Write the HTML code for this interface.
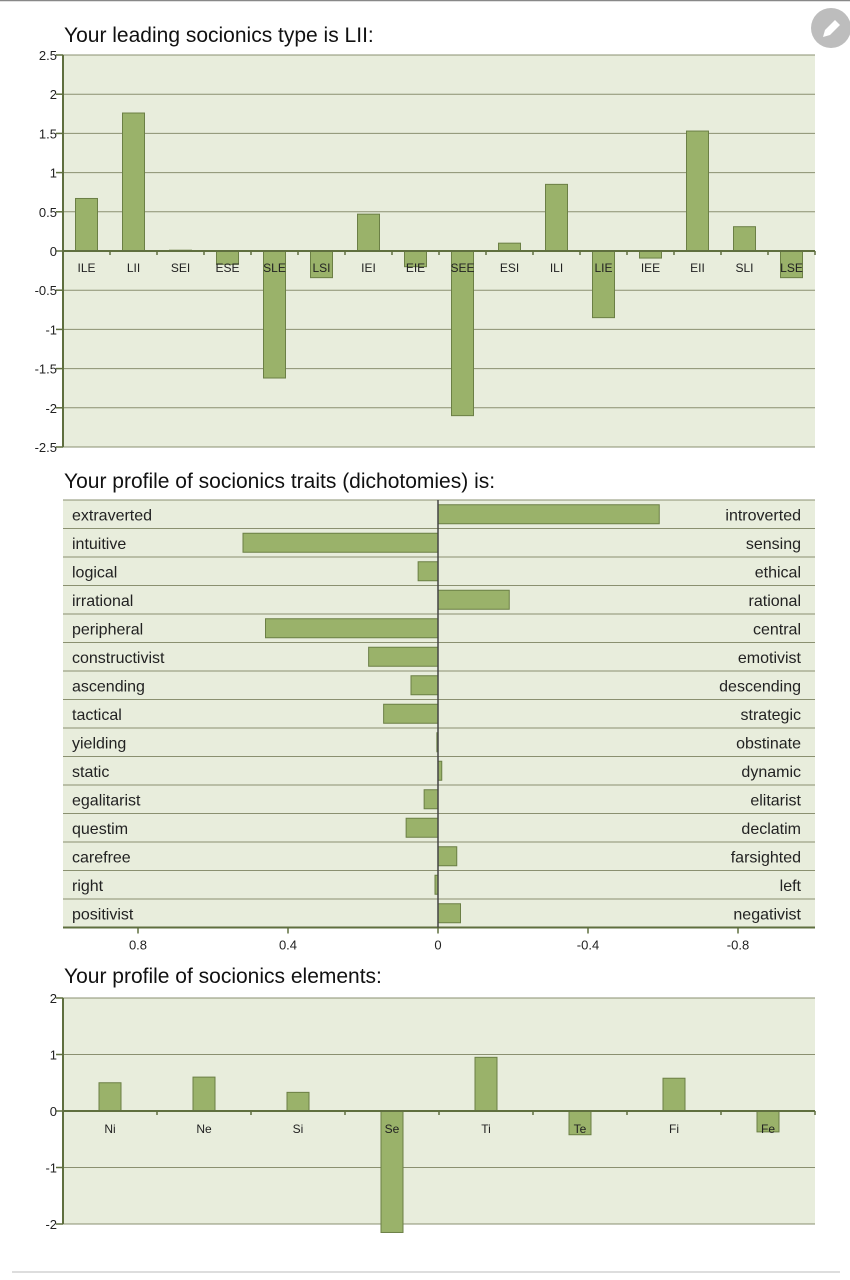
<!DOCTYPE html>
<html><head><meta charset="utf-8">
<style>
body{margin:0;background:#fff;width:850px;height:1280px;overflow:hidden;font-family:"Liberation Sans",sans-serif;}
svg{display:block}
</style></head>
<body>
<svg id="svg" width="850" height="1280" xmlns="http://www.w3.org/2000/svg">
<line x1="0" y1="0.5" x2="850" y2="0.5" stroke="#888" stroke-width="1.5"/>
<g>
<circle cx="831" cy="28" r="20" fill="#bdbdbd"/>
<path d="M823 37 l2-7 10-10 5 5-10 10z" fill="#fff"/>
</g>
<line x1="12" y1="1272" x2="840" y2="1272" stroke="#ddd" stroke-width="2"/>
<text x="64" y="42" font-size="21" fill="#111">Your leading socionics type is LII:</text>
<text x="64" y="488" font-size="21" fill="#111">Your profile of socionics traits (dichotomies) is:</text>
<text x="64" y="983" font-size="21" fill="#111">Your profile of socionics elements:</text>
<g id="c1"></g>
<g id="c2"></g>
<g id="c3"></g>
</svg>
<script>
const typeCats=["ILE","LII","SEI","ESE","SLE","LSI","IEI","EIE","SEE","ESI","ILI","LIE","IEE","EII","SLI","LSE"];
const typeVals=[0.67,1.76,0.01,-0.17,-1.62,-0.34,0.47,-0.2,-2.1,0.1,0.85,-0.85,-0.09,1.53,0.31,-0.34];
const typeTicks=[2.5,2,1.5,1,0.5,0,-0.5,-1,-1.5,-2,-2.5];
const traitLeft=["extraverted","intuitive","logical","irrational","peripheral","constructivist","ascending","tactical","yielding","static","egalitarist","questim","carefree","right","positivist"];
const traitRight=["introverted","sensing","ethical","rational","central","emotivist","descending","strategic","obstinate","dynamic","elitarist","declatim","farsighted","left","negativist"];
const traitVals=[-0.59,0.52,0.053,-0.19,0.46,0.185,0.072,0.145,0.003,-0.01,0.037,0.085,-0.05,0.008,-0.06];
const traitTicks=[0.8,0.4,0,-0.4,-0.8];
const elemCats=["Ni","Ne","Si","Se","Ti","Te","Fi","Fe"];
const elemVals=[0.5,0.6,0.33,-2.15,0.95,-0.42,0.58,-0.37];
const elemTicks=[2,1,0,-1,-2];

const NS="http://www.w3.org/2000/svg";
function mk(p,t,a){const e=document.createElementNS(NS,t);for(const k in a)e.setAttribute(k,a[k]);p.appendChild(e);return e;}
const BG="#e8eddc",BAR="#9ab26a",BS="#6b7f45",AX="#5f6f3f",GR="#8a9070";

function vchart(g,cats,vals,ticks,top,bot,vmax,vmin,labelY,bw,fs){
  const L=63,R=815;
  const y=v=>top+(vmax-v)/(vmax-vmin)*(bot-top);
  const cw=(R-L)/cats.length;
  const x=i=>L+cw*(i+0.5);
  const bg=mk(g,"rect",{x:L,y:top,width:R-L,height:bot-top,fill:BG});
  
  
  ticks.forEach(t=>{
    const gl=mk(g,"line",{x1:L,x2:R,y1:y(t),y2:y(t),stroke:GR,"stroke-width":1});
    
    
    mk(g,"line",{x1:L-7,x2:L,y1:y(t),y2:y(t),stroke:AX,"stroke-width":1.5});
    const tl=mk(g,"text",{x:L-6,y:y(t)+5,"font-size":13,"text-anchor":"end",fill:"#222"});
    tl.textContent=t;
    
    
  });
  vals.forEach((v,i)=>{
    const y0=y(0),y1=y(v);
    const b=mk(g,"rect",{x:x(i)-bw/2,y:Math.min(y0,y1),width:bw,height:Math.abs(y1-y0),fill:BAR,stroke:BS,"stroke-width":1});
    
    
  });
  const ya=mk(g,"line",{x1:L,x2:L,y1:top,y2:bot,stroke:AX,"stroke-width":2});
  
  
  const xa=mk(g,"line",{x1:L,x2:R,y1:y(0),y2:y(0),stroke:AX,"stroke-width":2});
  
  
  for(let i=0;i<=cats.length;i++)mk(g,"line",{x1:L+cw*i,x2:L+cw*i,y1:y(0),y2:y(0)+4,stroke:AX,"stroke-width":1.5});
  cats.forEach((c,i)=>{
    const t=mk(g,"text",{x:x(i),y:labelY,"font-size":fs,"text-anchor":"middle",fill:"#222"});
    t.textContent=c;
    
    
  });
}
vchart(document.getElementById("c1"),typeCats,typeVals,typeTicks,55,447,2.5,-2.5,272,22,12);
vchart(document.getElementById("c3"),elemCats,elemVals,elemTicks,998,1224,2,-2,1133,22,12);

(function(){
  const g=document.getElementById("c2");
  const L=63,R=815,top=500,rh=28.5,n=traitLeft.length,bot=top+rh*n;
  const x=v=>438-v*375;
  const bg=mk(g,"rect",{x:L,y:top,width:R-L,height:bot-top,fill:BG});
  
  
  for(let i=0;i<=n;i++){
    const l=mk(g,"line",{x1:L,x2:R,y1:top+rh*i,y2:top+rh*i,stroke:i==n?AX:GR,"stroke-width":i==n?2:1});
    
    
  }
  traitVals.forEach((v,i)=>{
    const cy=top+rh*i+rh/2;
    const b=mk(g,"rect",{x:Math.min(x(0),x(v)),y:cy-9.5,width:Math.max(Math.abs(x(v)-x(0)),1),height:19,fill:BAR,stroke:BS,"stroke-width":1});
    
    
    const a=mk(g,"text",{x:72,y:cy+6,"font-size":16,fill:"#222"});
    a.textContent=traitLeft[i];
    
    
    const c=mk(g,"text",{x:801,y:cy+6,"font-size":16,"text-anchor":"end",fill:"#222"});
    c.textContent=traitRight[i];
    
    
  });
  const z=mk(g,"line",{x1:x(0),x2:x(0),y1:top,y2:bot,stroke:"#444","stroke-width":1.5});
  
  
  traitTicks.forEach(t=>{
    mk(g,"line",{x1:x(t),x2:x(t),y1:bot,y2:bot+6,stroke:AX,"stroke-width":1.5});
    const tl=mk(g,"text",{x:x(t),y:bot+22,"font-size":13,"text-anchor":"middle",fill:"#222"});
    tl.textContent=t;
    
    
  });
})();
</script>
</body></html>
